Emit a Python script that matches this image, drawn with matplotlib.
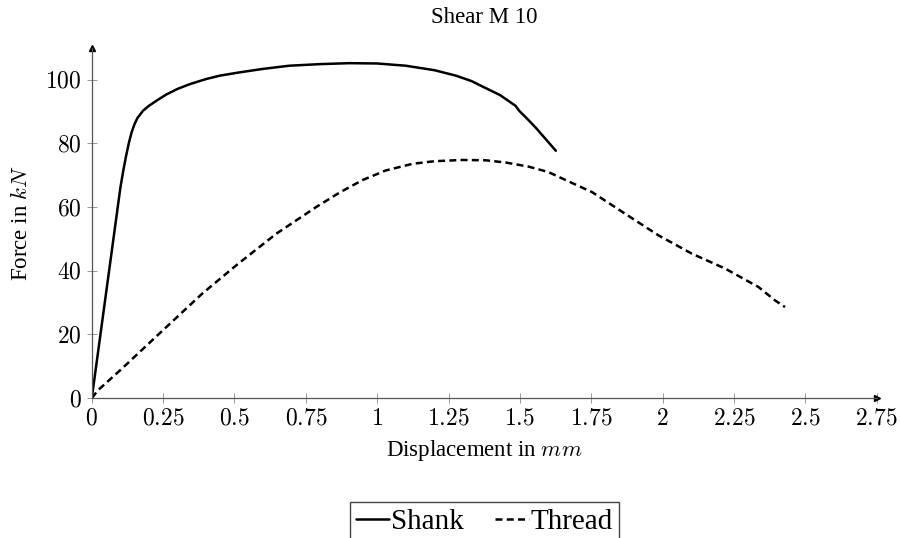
import numpy as np
import matplotlib
matplotlib.use("Agg")
import matplotlib.pyplot as plt

plt.rcParams['mathtext.fontset'] = 'cm'
plt.rcParams['font.family'] = ['Liberation Serif', 'DejaVu Serif']

# shank curve (displacement mm, force kN)
shank_x = [0, 0.05, 0.1, 0.11, 0.12, 0.13, 0.14, 0.15, 0.16, 0.18, 0.2, 0.23, 0.26,
           0.3, 0.343, 0.4, 0.45, 0.517, 0.6, 0.692, 0.8, 0.902, 1.0, 1.1, 1.2, 1.275, 1.33,
           1.375, 1.43, 1.485, 1.497, 1.525, 1.555, 1.59, 1.626]
shank_y = [0, 33, 66, 71.3, 76, 80.2, 83.6, 86.1, 88, 90.3, 91.8, 93.6, 95.3,
           97.1, 98.6, 100.2, 101.3, 102.3, 103.4, 104.4, 104.9, 105.2, 105.1, 104.4, 103,
           101.3, 99.6, 97.6, 95.2, 91.8, 90.3, 87.8, 85, 81.4, 77.7]

# thread curve
thread_x = [0, 0.022, 0.1, 0.249, 0.388, 0.506, 0.646, 0.786, 0.867, 0.949, 1.03, 1.124,
            1.2, 1.298, 1.38, 1.45, 1.531, 1.6, 1.648, 1.753, 1.869, 1.986, 2.102, 2.219,
            2.336, 2.394, 2.429]
thread_y = [0, 2.5, 8.8, 21.3, 32.9, 41.7, 51.6, 60, 64.5, 68.5, 71.5, 73.6,
            74.4, 74.8, 74.7, 74, 72.7, 71, 69, 64.7, 57.9, 51.1, 45.4, 40.7,
            34.9, 30.7, 28.6]

xticks = [0, 0.25, 0.5, 0.75, 1, 1.25, 1.5, 1.75, 2, 2.25, 2.5, 2.75]
xtick_labels = ['0', '0.25', '0.5', '0.75', '1', '1.25', '1.5', '1.75', '2', '2.25', '2.5', '2.75']
yticks = [0, 20, 40, 60, 80, 100]

fig = plt.figure(figsize=(9, 5.38), dpi=100)
ax = fig.add_axes([0.102, 0.260, 0.872, 0.651])

ax.plot(shank_x, shank_y, color='black', lw=1.8, label='Shank',
        solid_joinstyle='round', solid_capstyle='round')
ax.plot(thread_x, thread_y, color='black', lw=1.8, ls=(0, (2.8, 1.7)), label='Thread')

ax.set_xlim(0, 2.75)
ax.set_ylim(0, 110)
ax.set_xticks(xticks)
ax.set_xticklabels(['$%s$' % s for s in xtick_labels])
ax.set_yticks(yticks)
ax.set_yticklabels(['$%d$' % v for v in yticks])
ax.tick_params(direction='inout', length=7, width=0.6, color='#888888',
               labelsize=17, pad=4)

for side in ['top', 'right']:
    ax.spines[side].set_visible(False)
for side in ['left', 'bottom']:
    ax.spines[side].set_color('#555555')
    ax.spines[side].set_linewidth(0.9)

# axis arrows
ax.plot(1, 0, marker='>', color='black', ms=5, transform=ax.transAxes, clip_on=False)
ax.plot(0, 1, marker='^', color='black', ms=5, transform=ax.transAxes, clip_on=False)

ax.set_title('Shear M 10', fontsize=16.5, pad=18)
ax.set_xlabel('Displacement in $mm$', fontsize=16.5, labelpad=6)
ax.set_ylabel('Force in $kN$', fontsize=16.5, labelpad=9)

fig.legend(loc='upper center', bbox_to_anchor=(0.538, 0.066), ncol=2, fontsize=21,
           frameon=True, fancybox=False, edgecolor='#444444', framealpha=1,
           handlelength=1.15, handletextpad=0.05, columnspacing=1.1,
           borderpad=0.2, borderaxespad=0)

fig.savefig('out.png', dpi=100)
